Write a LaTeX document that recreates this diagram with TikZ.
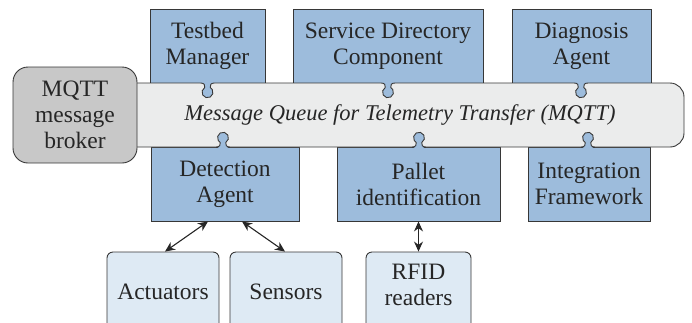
\documentclass[tikz,border=0pt]{standalone}
\usepackage{fontspec}
\setmainfont{Liberation Serif}
\usetikzlibrary{arrows.meta}
\definecolor{boxblue}{RGB}{157,188,220}
\definecolor{lightbox}{RGB}{222,234,244}
\definecolor{barfill}{RGB}{235,236,236}
\definecolor{brokerfill}{RGB}{200,200,200}
\definecolor{linec}{RGB}{55,55,55}
\newcommand\topknob[1]{-- ({#1-7},-83) .. controls ({#1-3.5},-83) and ({#1-2},-85) .. ({#1-2.75},-87.5) arc[start angle=120,end angle=420,radius=5.5] .. controls ({#1+2},-85) and ({#1+3.5},-83) .. ({#1+7},-83)}
\newcommand\botknob[1]{-- ({#1+7},-147) .. controls ({#1+3.5},-147) and ({#1+2},-145) .. ({#1+2.75},-142.5) arc[start angle=-60,end angle=240,radius=5.5] .. controls ({#1-2},-145) and ({#1-3.5},-147) .. ({#1-7},-147)}
\tikzset{
  bigbox/.style={draw=linec, fill=boxblue, line width=0.9pt, align=center, inner sep=0pt, minimum height=74},
  smallbox/.style={draw=linec, fill=lightbox, line width=0.9pt, align=center, inner sep=0pt, minimum height=80, rounded corners=6},
  brokerbox/.style={draw=linec, fill=brokerfill, line width=0.9pt, align=center, inner sep=0pt, rounded corners=15},
  conn/.style={{Stealth[length=10pt,width=9pt]}-{Stealth[length=10pt,width=9pt]}, line width=1.1pt, color=black!85}
}
\begin{document}
\begin{tikzpicture}[x=1pt,y=1pt,font=\fontsize{23.5}{26}\selectfont, text=black!85]
\useasboundingbox (0,0) rectangle (692,-322);
\clip (0,0) rectangle (692,-322);
% top boxes
\node[bigbox, minimum width=115] (tm) at (207.5,-46) {Testbed\\Manager};
\node[bigbox, minimum width=190] (sd) at (388,-46) {Service Directory\\Component};
\node[bigbox, minimum width=139] (da) at (581.5,-46) {Diagnosis\\Agent};
% bottom boxes
\node[bigbox, minimum width=148] (det) at (225,-184) {Detection\\Agent};
\node[bigbox, minimum width=163] (pal) at (418.5,-184) {Pallet\\identification};
\node[bigbox, minimum width=122] (int) at (589,-184) {Integration\\Framework};
% knob fills
\foreach \k in {207.5,388,581} \fill[boxblue] (\k,-90) circle (9);
\foreach \k in {223,419,588} \fill[boxblue] (\k,-140) circle (9);
% bar
\path[draw=linec, fill=barfill, line width=0.9pt]
  (120,-83) \topknob{207.5} \topknob{388} \topknob{581} -- (670,-83)
  arc[start angle=90,end angle=0,radius=14] -- (684,-133)
  arc[start angle=0,end angle=-90,radius=14]
  \botknob{588} \botknob{419} \botknob{223} -- (120,-147) -- cycle;
\node[font=\fontsize{22.5}{26}\selectfont\itshape] (mq) at (400,-115) {Message Queue for Telemetry Transfer (MQTT)};
% broker
\node[brokerbox, minimum width=124, minimum height=96] (br) at (75,-115) {MQTT\\message\\broker};
% small boxes
\node[smallbox, minimum width=112] (act) at (163,-292) {Actuators};
\node[smallbox, minimum width=112] (sen) at (286,-292) {Sensors};
\node[smallbox, minimum width=105] (rfid) at (418.5,-292) {};
\node[align=center] (rfidtext) at ([yshift=7]rfid.center) {RFID\\readers};
% arrows
\draw[conn] ([xshift=-17]det.south) -- ([xshift=2]act.north);
\draw[conn] ([xshift=17]det.south) -- ([xshift=-1]sen.north);
\draw[conn] (pal.south) -- (rfid.north);
\end{tikzpicture}
\end{document}
